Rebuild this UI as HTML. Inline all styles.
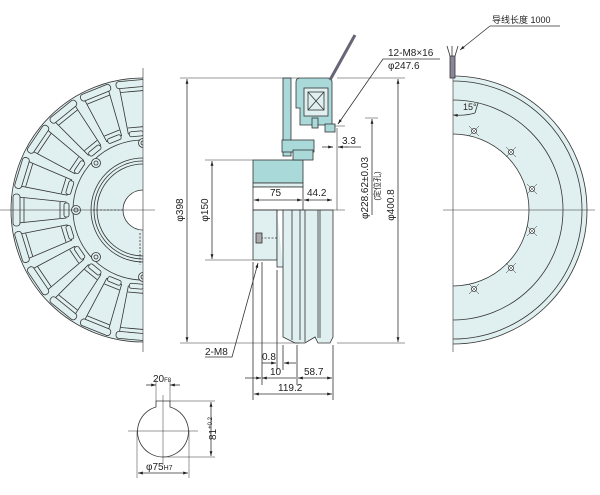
<!DOCTYPE html>
<html><head><meta charset="utf-8"><style>
html,body{margin:0;padding:0;background:#fff;}
svg{display:block;font-family:"Liberation Sans","Noto Sans CJK SC",sans-serif;}
</style></head><body>
<svg width="600" height="495" viewBox="0 0 600 495" xmlns="http://www.w3.org/2000/svg">
<defs>
<marker id="a" viewBox="0 0 10 10" refX="10" refY="5" markerWidth="6" markerHeight="6" orient="auto-start-reverse"><path d="M0,2 L10,5 L0,8 z" fill="#222"/></marker>
<clipPath id="lh"><rect x="0" y="0" width="143" height="495"/></clipPath>
<clipPath id="rh"><rect x="453" y="0" width="147" height="495"/></clipPath>
<g id="slot">
<path d="M18,197 L66,202 L66,218 L18,223 z"/>
<rect x="13" y="194" width="7" height="32" rx="3"/>
<path d="M24,198 V222 M60,202 V218"/>
<rect x="64" y="203" width="5" height="14" rx="2"/>
</g>
</defs>
<g stroke="#333" stroke-width="0.8" fill="none">
<!-- LEFT VIEW -->
<g clip-path="url(#lh)">
<circle cx="143" cy="210" r="132" fill="#e0f0f0"/>
<g fill="#e0f0f0">
<use href="#slot" transform="rotate(0 143 210)"/>
<use href="#slot" transform="rotate(17 143 210)"/>
<use href="#slot" transform="rotate(34 143 210)"/>
<use href="#slot" transform="rotate(51 143 210)"/>
<use href="#slot" transform="rotate(68 143 210)"/>
<use href="#slot" transform="rotate(85 143 210)"/>
<use href="#slot" transform="rotate(-17 143 210)"/>
<use href="#slot" transform="rotate(-34 143 210)"/>
<use href="#slot" transform="rotate(-51 143 210)"/>
<use href="#slot" transform="rotate(-68 143 210)"/>
<use href="#slot" transform="rotate(-85 143 210)"/>
</g>
<circle cx="143" cy="210" r="70" fill="#e0f0f0"/>
<circle cx="143" cy="210" r="52"/>
<circle cx="143" cy="210" r="49"/>
<circle cx="143" cy="210" r="46"/>
<circle cx="143" cy="210" r="20" fill="#fff"/>
<g fill="#e0f0f0"><circle cx="76" cy="210" r="4.5"/><circle cx="96" cy="163" r="4.5"/><circle cx="96" cy="257" r="4.5"/><circle cx="143" cy="143" r="4.5"/><circle cx="143" cy="277" r="4.5"/></g>
<g><circle cx="76" cy="210" r="2"/><circle cx="96" cy="163" r="2"/><circle cx="96" cy="257" r="2"/><circle cx="143" cy="143" r="2"/><circle cx="143" cy="277" r="2"/></g>
<path d="M93,210 H123 M140,233 V265" stroke-dasharray="2 1.5"/>
</g>
<path d="M143,68 V352 M0,210 H155" stroke-width="0.6"/>
<!-- RIGHT VIEW -->
<g clip-path="url(#rh)">
<circle cx="453" cy="210" r="134" fill="#e0f0f0"/>
<circle cx="453" cy="210" r="129"/>
<circle cx="453" cy="210" r="110"/>
<circle cx="453" cy="210" r="76" fill="#fff"/>
<g fill="#fff"><circle cx="474" cy="131" r="2.5"/><circle cx="511" cy="152" r="2.5"/><circle cx="532" cy="189" r="2.5"/><circle cx="532" cy="231" r="2.5"/><circle cx="511" cy="268" r="2.5"/><circle cx="474" cy="289" r="2.5"/></g>
<g stroke-width="0.5"><path d="M469,126 L479,136 M469,136 L479,126 M506,147 L516,157 M506,157 L516,147 M527,184 L537,194 M527,194 L537,184 M527,226 L537,236 M527,236 L537,226 M506,263 L516,273 M506,273 L516,263 M469,284 L479,294 M469,294 L479,284"/></g>
</g>
<path d="M453,60 V352 M443,210 H595" stroke-width="0.6"/>
<rect x="450" y="56" width="5" height="22" fill="#889"/>
<path d="M450,56 l-3,-10 M455,56 l3,-10 M452,56 v-10"/>
<path d="M453,115 Q465,116 475,113" marker-start="url(#a)"/>
<path d="M475,113 L478,103"/>
<!-- MIDDLE VIEW -->
<rect x="253" y="160" width="50" height="23" fill="#a9d9d9"/>
<rect x="253" y="183" width="50" height="4" fill="#e0f0f0"/>
<rect x="253" y="187" width="50" height="23" fill="#fff"/>
<rect x="253" y="210" width="24" height="50" fill="#e0f0f0"/>
<path d="M277,210 V267 H283" fill="#e0f0f0"/>
<path d="M283,210 H333 V337 L330,343 H318 L315,337 L305,343 H295 L283,337 z" fill="#e0f0f0"/>
<path d="M292,210 V340 M300,210 V340 M305,210 V342 M318,210 V338 M320,210 V338"/>
<path d="M261,238 H277" stroke-dasharray="2 1.5"/>
<rect x="256" y="233" width="6" height="10" fill="#aaa"/>
<!-- bracket & coil -->
<rect x="283" y="78" width="8" height="78" fill="#a9d9d9"/>
<path d="M296,82 Q296,78 300,78 H328 Q332,78 332,82 V125 H300 V108 H296 z" fill="#a9d9d9"/>
<rect x="304" y="88" width="24" height="28" fill="#e0f0f0"/>
<rect x="308" y="92" width="16" height="18"/>
<path d="M308,92 L324,110 M324,92 L308,110"/>
<rect x="312" y="118" width="6" height="10" fill="#a9d9d9"/>
<rect x="282" y="140" width="32" height="12" fill="#a9d9d9"/>
<rect x="293" y="150" width="20" height="10" fill="#a9d9d9"/>
<rect x="325" y="124" width="10" height="8" fill="#a9d9d9"/>
<path d="M330,80 L355,35" stroke-width="3" stroke="#667"/>
<path d="M335,126 H345 M337,128 V210" stroke-width="0.6"/>
<!-- dims -->
<path d="M180,78 H300 M180,343 H300 M205,160 H253 M205,260 H253 M337,78 H405 M337,343 H405 M365,118 H378" stroke-width="0.5"/>
<path d="M187,79 V342" marker-start="url(#a)" marker-end="url(#a)"/>
<path d="M212,161 V259" marker-start="url(#a)" marker-end="url(#a)"/>
<path d="M398,79 V342" marker-start="url(#a)" marker-end="url(#a)"/>
<path d="M372,119 V215" marker-start="url(#a)"/>
<path d="M254,200 H302" marker-start="url(#a)" marker-end="url(#a)"/>
<path d="M304,200 H332" marker-start="url(#a)" marker-end="url(#a)"/>
<path d="M253,210 H345" stroke-width="0.6"/>
<path d="M322,147 H333 M345,147 H361 M343,147 H338" />
<path d="M330,147 l3,0" marker-end="url(#a)"/><path d="M348,147 l-10,0" marker-end="url(#a)"/>
<path d="M253,262 V400 M262,262 V385 M277,270 V370 M283,345 V370 M297,345 V385 M333,345 V400"/>
<path d="M262,363 H276" marker-end="url(#a)"/><path d="M296,363 H284" marker-end="url(#a)"/>
<path d="M245,378 H261" marker-end="url(#a)"/><path d="M262,378 H296" marker-start="url(#a)"/>
<path d="M298,378 H332" marker-start="url(#a)" marker-end="url(#a)"/>
<path d="M254,394 H332" marker-start="url(#a)" marker-end="url(#a)"/>
<path d="M205,357 H232 L258,263" marker-end="url(#a)"/>
<path d="M440,59 H383 L338,124" marker-end="url(#a)"/>
<path d="M560,26 H490 L460,50" marker-end="url(#a)"/>
<!-- KEY -->
<path d="M156,407 V401 H170 V407 A25.5,25.5 0 1 1 156,407 z"/>
<path d="M128,431 H198 M163,395 V465" stroke-width="0.5"/>
<path d="M156,401 V380 M170,401 V380 M170,401 H215 M163,457 H215 M137,431 V478 M189,431 V478" stroke-width="0.5"/>
<path d="M146,385 H156" marker-end="url(#a)"/><path d="M180,385 H170" marker-end="url(#a)"/>
<path d="M211,402 V456" marker-start="url(#a)" marker-end="url(#a)"/>
<path d="M138,473 H188" marker-start="url(#a)" marker-end="url(#a)"/>
</g>
<g fill="#222" font-size="10">
<text x="183" y="210" transform="rotate(-90 183 210)" text-anchor="middle">φ398</text>
<text x="208" y="210" transform="rotate(-90 208 210)" text-anchor="middle">φ150</text>
<text x="394" y="205" transform="rotate(-90 394 205)" text-anchor="middle">φ400.8</text>
<text x="368" y="188" transform="rotate(-90 368 188)" text-anchor="middle">φ228.62±0.03</text>
<text x="380" y="186" transform="rotate(-90 380 186)" text-anchor="middle" font-size="8">(定位孔)</text>
<text x="270" y="196">75</text>
<text x="307" y="196">44.2</text>
<text x="342" y="144">3.3</text>
<text x="205" y="355">2-M8</text>
<text x="262" y="360">0.8</text>
<text x="270" y="375">10</text>
<text x="304" y="375">58.7</text>
<text x="278" y="391">119.2</text>
<text x="388" y="56">12-M8×16</text>
<text x="388" y="69">φ247.6</text>
<text x="492" y="23" font-size="9">导线长度 1000</text>
<text x="463" y="110" font-size="9">15°</text>
<text x="153" y="382">20<tspan font-size="6">F8</tspan></text>
<text x="216" y="440" transform="rotate(-90 216 440)">81<tspan font-size="6" dy="-4">+0.2</tspan></text>
<text x="146" y="470">φ75<tspan font-size="7">H7</tspan></text>
</g>
</svg>
</body></html>
